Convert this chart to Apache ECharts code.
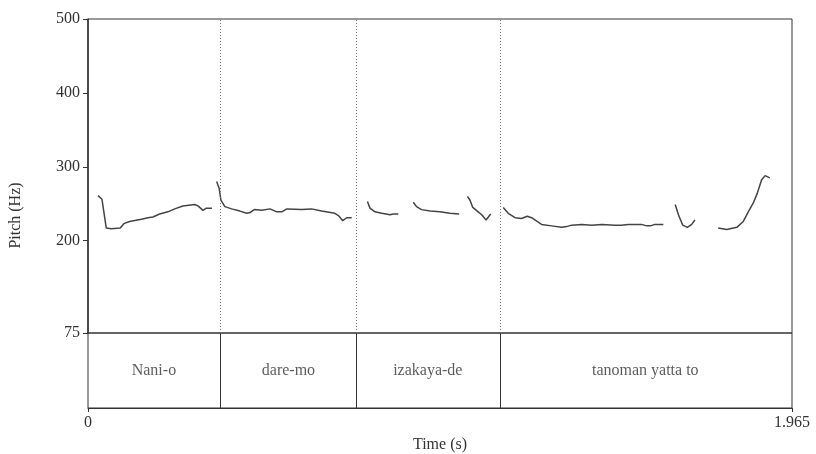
<!DOCTYPE html>
<html>
<head>
<meta charset="utf-8">
<script src="https://cdn.jsdelivr.net/npm/echarts@6/dist/echarts.min.js"></script>
<style>
  html, body { margin: 0; padding: 0; background: #fff; }
  #main { width: 816px; height: 454px; }
</style>
</head>
<body>
<div id="main"></div>
<script>
// pitch contours, [time s, Hz]
var contour1 = [[0.028,261],[0.039,256],[0.051,217],[0.065,216],[0.090,217],[0.100,223],[0.116,226],[0.149,229],[0.167,231],[0.181,232],[0.200,236],[0.223,239],[0.242,243],[0.265,247],[0.298,249],[0.307,247],[0.321,241],[0.330,244],[0.346,244]];
var contour2 = [[0.359,280],[0.366,271],[0.371,255],[0.382,246],[0.401,243],[0.424,240],[0.443,237],[0.452,238],[0.464,242],[0.485,241],[0.508,243],[0.527,239],[0.541,239],[0.555,243],[0.596,242],[0.624,243],[0.652,240],[0.689,237],[0.699,234],[0.711,227],[0.722,231],[0.736,231]];
var contour3 = [[0.780,253],[0.787,244],[0.801,239],[0.820,237],[0.843,235],[0.852,236],[0.866,236]];
var contour4 = [[0.908,252],[0.917,246],[0.931,242],[0.955,240],[0.982,239],[1.010,237],[1.036,236]];
var contour5 = [[1.059,260],[1.066,255],[1.074,245],[1.089,239],[1.099,235],[1.111,228],[1.124,236]];
var contour6 = [[1.159,245],[1.173,237],[1.192,231],[1.210,230],[1.226,233],[1.238,231],[1.266,222],[1.294,220],[1.322,218],[1.336,219],[1.350,221],[1.378,222],[1.406,221],[1.434,222],[1.471,221],[1.489,221],[1.508,222],[1.545,222],[1.559,220],[1.570,220],[1.582,222],[1.606,222]];
var contour7 = [[1.639,249],[1.648,235],[1.660,221],[1.673,218],[1.685,222],[1.694,228]];
var contour8 = [[1.759,217],[1.783,215],[1.811,218],[1.829,226],[1.843,239],[1.857,251],[1.868,264],[1.880,282],[1.890,288],[1.903,285]];

var wordLabels = ['Nani-o', 'dare-mo', 'izakaya-de', 'tanoman yatta to'];
var wordEdges = [0, 0.368, 0.751, 1.146, 1.965];
var pitchTicks = [75, 200, 300, 400, 500];
var timeTicks = [0, 1.965];

var fontFam = 'Liberation Serif';
var ink = '#333';
var fs = 16;

var chart = echarts.init(document.getElementById('main'));

var inner = wordEdges.slice(1, -1);
var contours = [contour1, contour2, contour3, contour4, contour5, contour6, contour7, contour8];

var series = contours.map(function (c) {
  return {
    type: 'line',
    xAxisIndex: 0, yAxisIndex: 0,
    data: c,
    symbol: 'none',
    lineStyle: { color: '#444', width: 1.5 },
    animation: false,
    silent: true
  };
});
// dotted boundaries in pitch panel
series.push({
  type: 'line', xAxisIndex: 0, yAxisIndex: 0, data: [],
  markLine: {
    silent: true, symbol: 'none', animation: false,
    label: { show: false },
    lineStyle: { color: '#777', type: [1, 2], width: 1 },
    data: inner.map(function (t) { return { xAxis: t }; })
  }
});
// solid boundaries + words in text tier
series.push({
  type: 'scatter', xAxisIndex: 1, yAxisIndex: 1,
  symbolSize: 0,
  data: wordLabels.map(function (w, i) {
    return { name: w, value: [(wordEdges[i] + wordEdges[i + 1]) / 2, 0.5] };
  }),
  label: {
    show: true, position: 'inside', formatter: '{b}',
    color: ink, fontSize: fs, fontFamily: fontFam
  },
  silent: true, animation: false,
  markLine: {
    silent: true, symbol: 'none', animation: false,
    label: { show: false },
    lineStyle: { color: ink, type: 'solid', width: 1 },
    data: inner.map(function (t) { return { xAxis: t }; })
  }
});

chart.setOption({
  backgroundColor: '#fff',
  textStyle: { fontFamily: fontFam },
  grid: [
    { left: 88, right: 24, top: 19, height: 314, show: true, borderColor: ink, borderWidth: 1 },
    { left: 88, right: 24, top: 333, height: 79, show: true, borderColor: ink, borderWidth: 1 },
    // spans both panels, only carries the y title
    { left: 88, right: 24, top: 19, height: 393 }
  ],
  xAxis: [
    { type: 'value', gridIndex: 0, min: 0, max: 1.965, show: false },
    {
      type: 'value', gridIndex: 1, min: 0, max: 1.965,
      splitLine: { show: false },
      axisLine: { show: true, lineStyle: { color: ink } },
      axisTick: { show: true, customValues: timeTicks, length: 4, lineStyle: { color: ink } },
      axisLabel: {
        customValues: timeTicks, color: ink, fontSize: fs, fontFamily: fontFam, margin: 7,
        formatter: function (v) { return v === 0 ? '0' : v.toFixed(3); }
      },
      name: 'Time (s)', nameLocation: 'middle', nameGap: 29,
      nameTextStyle: { color: ink, fontSize: fs, fontFamily: fontFam }
    },
    { type: 'value', gridIndex: 2, min: 0, max: 1, show: false }
  ],
  yAxis: [
    {
      type: 'value', gridIndex: 0, min: 75, max: 500,
      splitLine: { show: false },
      axisLine: { show: true, lineStyle: { color: ink, width: 1.5 } },
      axisTick: { show: true, customValues: pitchTicks, length: 5, lineStyle: { color: ink } },
      axisLabel: { customValues: pitchTicks, color: ink, fontSize: fs, fontFamily: fontFam, margin: 8 }
    },
    { type: 'value', gridIndex: 1, min: 0, max: 1, show: false },
    {
      type: 'value', gridIndex: 2, min: 0, max: 1,
      axisLine: { show: false }, axisTick: { show: false },
      axisLabel: { show: false }, splitLine: { show: false },
      name: 'Pitch (Hz)', nameLocation: 'middle', nameGap: 66, nameRotate: 90,
      nameTextStyle: { color: ink, fontSize: fs, fontFamily: fontFam }
    }
  ],
  series: series
});
</script>
</body>
</html>
